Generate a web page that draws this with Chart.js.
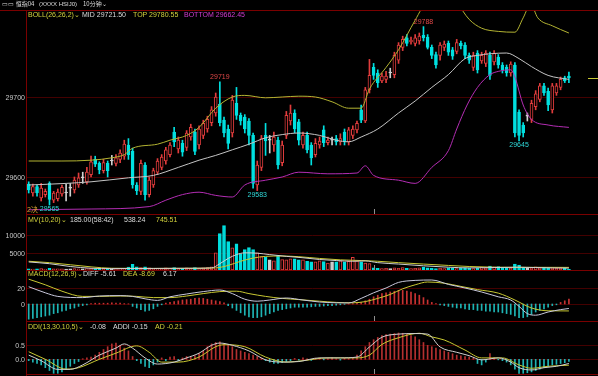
<!DOCTYPE html>
<html><head><meta charset="utf-8">
<script src="https://cdn.jsdelivr.net/npm/chart.js@4.4.1/dist/chart.umd.min.js"></script>
<style>
html,body{margin:0;padding:0;background:#000;width:598px;height:376px;overflow:hidden;}
#wrap{position:relative;width:598px;height:376px;font-family:"Liberation Sans",Arial,"Noto Sans CJK SC",sans-serif;}
canvas{position:absolute;left:0;}
.t{position:absolute;font-size:7px;line-height:8px;white-space:nowrap;}
.y{color:#d2d23c}.w{color:#dcdcdc}.m{color:#d23cd2}.c{color:#30d8d8}.o{color:#d8a030}
.ln{position:absolute;background:#7a0000;}
</style></head><body><div id="wrap">
<canvas id="cMain" width="598" height="204" style="top:10px"></canvas>
<canvas id="cVol" width="598" height="56" style="top:214px"></canvas>
<canvas id="cMacd" width="598" height="50" style="top:271px"></canvas>
<canvas id="cDdi" width="598" height="53" style="top:321px"></canvas>

<div class="ln" style="left:0;top:10px;width:598px;height:1px"></div>
<div class="ln" style="left:26px;top:10px;width:1px;height:366px"></div>
<div class="ln" style="left:26px;top:214px;width:572px;height:1px"></div>
<div class="ln" style="left:26px;top:270px;width:572px;height:1px"></div>
<div class="ln" style="left:26px;top:321px;width:572px;height:1px"></div>
<div class="ln" style="left:26px;top:374px;width:572px;height:1px"></div>

<div class="t w" style="left:2px;top:0px;font-size:6px;">▭▭ <span style="font-family:'Noto Sans CJK SC'">恒指04</span></div>
<div class="t w" style="left:39px;top:0px;font-size:6px;">(XXXX HSIJ0)</div>
<div class="t w" style="left:83px;top:0px;font-size:6px;font-family:'Noto Sans CJK SC'">10分钟⌄</div>

<div class="t y" style="left:28px;top:11px;">BOLL(26,26,2)⌄</div>
<div class="t w" style="left:82px;top:11px;">MID 29721.50</div>
<div class="t y" style="left:133px;top:11px;">TOP 29780.55</div>
<div class="t m" style="left:184px;top:11px;">BOTTOM 29662.45</div>
<div class="t o" style="left:27px;top:206px;">2决</div>

<div class="t y" style="left:28px;top:216px;">MV(10,20)⌄</div>
<div class="t w" style="left:70px;top:216px;">185.00(58:42)</div>
<div class="t w" style="left:124px;top:216px;">538.24</div>
<div class="t y" style="left:156px;top:216px;">745.51</div>

<div class="t y" style="left:28px;top:270px;">MACD(12,26,9)⌄</div>
<div class="t w" style="left:83px;top:270px;">DIFF -5.61</div>
<div class="t y" style="left:123px;top:270px;">DEA -8.69</div>
<div class="t w" style="left:163px;top:270px;">6.17</div>

<div class="t y" style="left:28px;top:323px;">DDI(13,30,10,5)⌄</div>
<div class="t w" style="left:90px;top:323px;">-0.08</div>
<div class="t w" style="left:113px;top:323px;">ADDI -0.15</div>
<div class="t y" style="left:155px;top:323px;">AD -0.21</div>
</div>
<script>
// ===== DATA =====
const candleOpen = [29591,29580,29588,29574,29578,29592,29571,29573,29579,29580,29586,29584,29590,29599,29594,29603,29622,29617,29608,29617,
29620,29617,29622,29626,29640,29632,29590,29582,29615,29578,29590,29606,29612,29620,29628,29656,29635,29642,29637,29650,
29656,29640,29652,29660,29668,29680,29691,29671,29660,29655,29692,29677,29675,29670,29652,29590,29612,29652,29646,29640,
29646,29618,29652,29670,29680,29669,29640,29652,29640,29628,29640,29659,29643,29646,29648,29644,29656,29644,29652,29659,
29684,29670,29709,29737,29730,29720,29722,29730,29728,29746,29762,29774,29769,29767,29770,29777,29775,29762,29753,29752,
29762,29767,29759,29757,29767,29765,29752,29737,29755,29745,29742,29752,29744,29750,29740,29737,29730,29740,29681,29665,
29676,29672,29688,29697,29714,29707,29684,29705,29712,29724,29726];
const candleHigh = [29594,29591,29590,29592,29585,29594,29582,29585,29590,29591,29592,29600,29605,29606,29612,29626,29626,29619,29622,29620,
29627,29628,29634,29646,29648,29636,29593,29621,29618,29600,29611,29623,29628,29637,29643,29662,29650,29646,29658,29666,
29660,29664,29671,29676,29688,29705,29719,29675,29665,29702,29712,29680,29678,29673,29655,29620,29652,29667,29652,29656,
29650,29645,29682,29690,29684,29672,29656,29656,29643,29648,29650,29664,29650,29650,29652,29654,29660,29662,29664,29670,
29690,29712,29747,29742,29734,29730,29732,29736,29756,29768,29776,29778,29775,29778,29780,29788,29778,29765,29756,29768,
29770,29770,29762,29772,29770,29768,29755,29756,29758,29756,29758,29756,29758,29753,29743,29740,29744,29743,29684,29668,
29680,29696,29708,29717,29717,29711,29717,29717,29725,29726,29731];
const candleLow = [29580,29576,29576,29570,29575,29565,29568,29570,29576,29570,29576,29580,29587,29592,29591,29600,29613,29604,29605,29600,
29615,29614,29618,29622,29622,29586,29578,29578,29571,29575,29587,29603,29609,29616,29625,29638,29630,29626,29633,29646,
29628,29635,29648,29656,29664,29676,29664,29650,29635,29650,29672,29665,29655,29640,29586,29583,29608,29627,29630,29632,
29610,29614,29648,29665,29655,29640,29636,29630,29615,29625,29636,29638,29640,29640,29640,29640,29640,29640,29648,29655,
29668,29668,29705,29722,29712,29718,29718,29724,29724,29742,29758,29764,29766,29764,29766,29770,29760,29748,29736,29746,
29758,29752,29747,29754,29760,29748,29742,29733,29730,29742,29738,29722,29740,29736,29730,29726,29726,29650,29645,29650,
29670,29668,29684,29694,29702,29683,29680,29702,29709,29718,29718];
const candleClose = [29584,29588,29580,29586,29582,29572,29580,29581,29587,29580,29586,29596,29599,29599,29606,29619,29616,29609,29618,29608,
29620,29624,29630,29641,29628,29590,29583,29617,29578,29596,29608,29620,29625,29634,29640,29644,29646,29631,29655,29662,
29632,29660,29667,29672,29684,29700,29668,29655,29642,29696,29677,29670,29660,29652,29592,29615,29648,29645,29646,29650,
29615,29640,29677,29680,29660,29646,29652,29634,29624,29642,29645,29643,29646,29646,29644,29648,29644,29659,29660,29667,
29671,29709,29727,29727,29718,29726,29726,29730,29752,29765,29772,29767,29771,29774,29776,29774,29762,29752,29740,29765,
29766,29756,29751,29768,29764,29752,29746,29752,29734,29752,29755,29727,29755,29740,29734,29730,29741,29655,29652,29655,
29676,29692,29704,29714,29705,29690,29714,29714,29722,29720,29724];

const volume = [300,250,300,400,250,500,300,350,300,250,300,400,350,300,400,500,350,300,300,400,250,300,350,400,
800,1600,900,
700,900,600,500,400,500,600,400,700,500,400,600,500,700,500,600,700,900,
4900,10400,12700,8100,6300,7500,4600,5800,6400,5800,4900,3800,3700,2900,2600,4100,3000,2900,3200,3200,2900,2900,2500,2300,2300,2600,2400,2000,2300,2300,2600,2300,2500,3600,2600,2300,2000,1800,
600,500,400,500,400,600,500,700,500,400,500,600,800,600,500,400,500,400,600,500,400,500,600,500,400,500,800,600,1100,900,1000,500,600,500,1700,1400,700,500,600,900,600,700,500,600,500,600,500,185];

const bollTop = [[0,29620],[8,29620],[15,29621],[20,29624],[23,29628],[25,29636],[31,29641],[34,29646],[38,29652],[41,29662],[45,29686],[49,29700],[52,29702],[57,29699],[61,29700],[65,29701],[69,29700],[73,29694],[77,29686],[80,29686],[82,29710],[86,29737],[89,29759],[93,29796],[96,29822],[100,29832],[103,29818],[106,29797],[109,29786],[113,29782],[117,29781],[119,29799],[120.8,29816],[122.5,29799],[126,29789],[130,29780]];
const bollMid = [[0,29590],[9,29592],[15,29594],[24,29599],[30,29602],[36,29612],[41,29621],[45,29627],[49,29634],[53,29641],[57,29649],[61,29653],[65,29655],[70,29652],[74,29646],[77,29644],[80,29650],[84,29660],[89,29680],[93,29695],[97,29712],[101,29728],[105,29748],[108,29752],[111,29754],[115,29755],[118,29748],[121,29738],[125,29727],[130,29722]];
const bollBottom = [[0,29559],[15,29560],[29,29563],[33,29571],[37,29578],[41,29581],[45,29577],[49,29575],[52,29590],[57,29596],[61,29600],[65,29606],[72,29604],[79,29605],[81,29614],[83,29602],[89,29596],[93,29592],[97,29612],[101,29633],[103,29660],[105.5,29690],[108,29712],[111,29728],[113,29732],[116,29734],[117,29725],[119,29690],[121,29672],[125,29665],[130,29662]];

const mv10 = [[0,2300],[5,1800],[10,1000],[15,500],[20,400],[30,450],[40,500],[44,600],[46,1800],[48,3300],[50,4400],[52,4900],[55,4800],[58,4400],[62,3900],[66,3500],[70,3000],[74,2700],[78,2500],[81,2600],[84,2100],[89,1700],[95,1200],[101,800],[106,600],[112,700],[118,800],[122,700],[126,600],[130,538]];
const mv20 = [[0,2500],[5,2100],[10,1500],[15,900],[20,500],[30,450],[40,500],[45,600],[48,1300],[51,2500],[54,3400],[57,3900],[61,4000],[65,3800],[70,3300],[75,2900],[80,2700],[84,2500],[89,2100],[95,1700],[101,1300],[106,1000],[112,800],[118,750],[124,760],[130,745]];

const macdDiff = [[0,21.6],[4,14],[7,9.5],[13,8],[17,10],[22,10.5],[25,9.5],[28,6.5],[31,4.5],[34,9],[38,12.5],[42,15.5],[46,17.5],[49,13],[52,6],[55,3.5],[58,5],[62,7.5],[66,5],[70,2.5],[74,1.5],[77,1.3],[80,7],[83,14],[86,20],[89,27],[93,29.5],[97,30],[101,24.5],[105,20],[109,15],[113,9],[116,5],[118,-3],[120,-12],[122,-14],[125,-10],[128,-7],[130,-5.61]];
const macdDea = [[0,31],[4,24],[8,16],[13,9.5],[17,9.5],[22,10],[26,9.5],[30,8],[34,8],[38,10],[42,13],[46,15.5],[50,16],[53,13],[57,9.5],[61,7],[65,5.5],[70,3.5],[74,2],[78,1.5],[81,3],[84,7],[87,12],[90,19],[93,24],[96,27.5],[100,26],[104,22],[108,18],[113,13.6],[117,5],[121,-5],[125,-8.5],[130,-8.69]];
const macdHist = [-19,-18,-17,-16,-15,-14,-12,-11,-9,-8,-6,-5,-3,-2,-1,
0.5,1,1,1,1,1.5,1,1,0.5,0.3,
-3,-5,-7,-9,-8,-6,-3,-1,
1,2,3,4,5,5.5,6,7,7.5,7,6,5,4,3,1.5,
-2,-5,-8,-11,-14,-16,-17,-17,-16,-14,-12,-10,-8,-7,-6,-5,-4,
-4,-4,-4,-3.5,-3,-3,-2.5,-2,-2,-1.5,-1,-0.5,
0.3,0.5,1,
2,4,6,9,11,13,14,15,16,17,17,16,15,13,11,8,5,
2,0.5,-1,
-2,-3,-4,-5,-5,-6,-7,-7,-8,-8,-9,-9,-10,-10,-11,-12,-13,-15,-17,-17,
-16,-13,-10,-8,-6,-4,-2,-1,
2,4,6.17];

const ddiAddi = [[0,0.15],[3,-0.05],[7,-0.36],[10,-0.36],[13,-0.2],[17,0.15],[21,0.4],[23,0.55],[25,0.4],[28,0.05],[31,-0.17],[35,-0.1],[38,0.05],[41,0.22],[44,0.5],[46,0.58],[49,0.5],[53,0.3],[57,-0.02],[61,-0.1],[65,-0.08],[70,0.05],[75,0.05],[79,0.08],[82,0.44],[85,0.79],[89,0.9],[93,0.92],[96,0.9],[99,0.44],[103,0.25],[106,0.13],[109,-0.02],[113,0.05],[116,-0.1],[118,-0.3],[121,-0.38],[124,-0.3],[127,-0.25],[130,-0.15]];
const ddiAd = [[0,0.27],[4,0.0],[9,-0.35],[12,-0.3],[17,0.0],[21,0.22],[26,0.48],[29,0.25],[32,-0.1],[36,-0.1],[41,0.08],[45,0.45],[47,0.52],[52,0.45],[57,0.08],[62,-0.1],[66,-0.05],[72,0.05],[79,0.05],[82,0.15],[85,0.53],[89,0.77],[94,0.93],[97,0.8],[100,0.69],[105,0.33],[109,0.05],[114,0.05],[118,-0.2],[121,-0.32],[125,-0.25],[130,-0.21]];
const ddiBar = [-0.05,-0.1,-0.15,
-0.2,-0.3,-0.4,-0.5,-0.5,-0.45,-0.35,-0.25,-0.15,-0.08,
0.02,0.05,0.08,
0.15,0.25,0.35,0.45,0.55,0.58,0.5,0.4,0.3,
0.1,-0.05,-0.15,-0.25,-0.3,-0.2,-0.1,
0.05,-0.05,0.08,0.1,-0.05,0.05,0.1,0.08,0.12,
0.2,0.3,0.45,0.55,0.6,0.62,0.55,0.5,0.45,0.35,0.3,0.25,
0.2,0.15,0.1,0.05,
-0.05,-0.1,-0.15,-0.15,-0.12,-0.08,-0.05,
0.03,-0.03,0.05,0.02,-0.04,0.04,0.05,-0.02,0.03,0.05,0.02,-0.03,0.04,0.03,0.05,
0.15,0.3,0.45,0.6,0.7,0.78,0.85,0.88,0.9,0.92,0.94,0.93,0.9,0.85,0.8,0.7,0.6,0.5,0.45,0.4,0.35,0.3,
0.25,0.2,0.15,0.12,0.1,0.08,0.05,
-0.15,-0.2,-0.1,
0.2,0.05,
-0.02,-0.05,-0.1,-0.2,-0.35,-0.5,
-0.5,-0.48,-0.45,-0.4,-0.35,-0.3,-0.25,-0.2,-0.18,-0.15,-0.12,-0.08];

const mainTicks = [29700, 29600], mainTickLabels = ['29700','29600'];
const volTicks = [10000, 5000], volTickLabels = ['10000','5000'];
const macdTicks = [20, 0], macdTickLabels = ['20','0'];
const ddiTicks = [0.5, 0], ddiTickLabels = ['0.5','0.0'];
const markIdx = [5, 46, 55, 95, 118];
const markType = ['low','high','low','high','low'];
const sessionBreakIdx = 83;

// ===== RENDER =====
const N = candleOpen.length;
const X_MIN = -0.41, X_MAX = 137.0;
const UP = '#e03c3c', DN = '#00e0e0', FLAT = '#d0d0d0', GRID = '#440000';
const colors = candleOpen.map((o,i)=> candleClose[i] > o ? UP : (candleClose[i] < o ? DN : FLAT));
const fills = candleOpen.map((o,i)=> candleClose[i] > o ? '#000000' : colors[i]);
const pts = a => a.map(p => ({x:p[0], y:p[1]}));
const FONT = '7px "Liberation Sans", Arial, sans-serif';

function lineDs(data, color){
  return {type:'line', data: pts(data), borderColor: color, borderWidth: 1, pointRadius: 0,
          cubicInterpolationMode: 'monotone', order: 0};
}
function panelPlugin(cfg){
  return {
    id: 'panel_' + cfg.name,
    beforeDatasetsDraw(chart){
      const {ctx, chartArea: a} = chart; const y = chart.scales.y;
      ctx.save(); ctx.strokeStyle = GRID; ctx.lineWidth = 1;
      cfg.ticks.forEach(v => { const py = Math.round(y.getPixelForValue(v)) + 0.5;
        ctx.beginPath(); ctx.moveTo(a.left, py); ctx.lineTo(a.right, py); ctx.stroke(); });
      ctx.restore();
    },
    afterDraw(chart){
      const {ctx, chartArea: a} = chart; const x = chart.scales.x, y = chart.scales.y;
      ctx.save();
      ctx.font = FONT; ctx.fillStyle = '#c8c8c8'; ctx.textAlign = 'right'; ctx.textBaseline = 'middle';
      cfg.ticks.forEach((v,k) => ctx.fillText(cfg.labels[k], 25, Math.round(y.getPixelForValue(v)) + 1));
      const sx = Math.round(x.getPixelForValue(sessionBreakIdx)) + 0.5;
      ctx.strokeStyle = '#909090'; ctx.lineWidth = 1;
      ctx.beginPath(); ctx.moveTo(sx, a.bottom - 5); ctx.lineTo(sx, a.bottom); ctx.stroke();
      if (cfg.extra) cfg.extra(chart);
      ctx.restore();
    }
  };
}
function makeChart(id, yMin, yMax, datasets, cfg){
  return new Chart(document.getElementById(id), {
    type: 'bar',
    data: {datasets},
    options: {
      responsive: false, animation: false, events: [],
      layout: {padding: {left: 27, right: 0, top: 0, bottom: 0}},
      plugins: {legend: {display: false}, tooltip: {enabled: false}},
      scales: {
        x: {type: 'linear', display: false, min: X_MIN, max: X_MAX, offset: false},
        y: {type: 'linear', display: false, min: yMin, max: yMax}
      }
    },
    plugins: [panelPlugin(cfg)]
  });
}

// main
makeChart('cMain', 29553.75, 29808.75, [
  lineDs(bollTop, '#b4b432'),
  lineDs(bollMid, '#c4c4c4'),
  lineDs(bollBottom, '#b42db4'),
  {type:'bar', data: candleOpen.map((o,i)=>({x:i, y:[Math.min(o,candleClose[i]), Math.max(o,candleClose[i])]})),
   backgroundColor: fills, borderColor: colors, borderWidth: 1, borderSkipped: false,
   barThickness: 3, grouped: false, minBarLength: 1, order: 1},
  {type:'bar', data: candleLow.map((l,i)=>({x:i, y:[l, candleHigh[i]]})),
   backgroundColor: colors, borderWidth: 0, barThickness: 1, grouped: false, order: 2}
], {name:'main', ticks: mainTicks, labels: mainTickLabels, extra(chart){
  const {ctx, chartArea: a} = chart; const x = chart.scales.x, y = chart.scales.y;
  ctx.font = FONT; ctx.textAlign = 'center';
  markIdx.forEach((i,k) => {
    const hi = markType[k] === 'high';
    const v = hi ? candleHigh[i] : candleLow[i];
    const px = x.getPixelForValue(i), py = y.getPixelForValue(v);
    ctx.fillStyle = hi ? '#e04848' : '#30d8d8';
    ctx.textBaseline = hi ? 'bottom' : 'top';
    ctx.fillText(String(v), px, hi ? py - 1 : py + 1);
  });
  const ly = Math.round(y.getPixelForValue(candleClose[N-1])) + 0.5;
  ctx.strokeStyle = '#c8c832'; ctx.beginPath(); ctx.moveTo(a.right - 10, ly); ctx.lineTo(a.right, ly); ctx.stroke();
}});

// volume
makeChart('cVol', 0, 16000, [
  lineDs(mv10, '#d0d0d0'),
  lineDs(mv20, '#c8c832'),
  {type:'bar', data: volume.map((v,i)=>({x:i, y:v})), backgroundColor: fills, borderColor: colors,
   borderWidth: 1, borderSkipped: false, barThickness: 3, grouped: false, order: 1}
], {name:'vol', ticks: volTicks, labels: volTickLabels});

// MACD
makeChart('cMacd', -21.25, 41.25, [
  lineDs(macdDiff, '#c8c8dc'),
  lineDs(macdDea, '#c8c832'),
  {type:'bar', data: macdHist.map((v,i)=>({x:i, y:v})), backgroundColor: macdHist.map(v => v >= 0 ? '#c83232' : '#1eb4b4'),
   borderWidth: 0, barThickness: 1, grouped: false, order: 1}
], {name:'macd', ticks: macdTicks, labels: macdTickLabels});

// DDI
makeChart('cDdi', -0.525, 1.368, [
  lineDs(ddiAddi, '#d0d0d0'),
  lineDs(ddiAd, '#c8c832'),
  {type:'bar', data: ddiBar.map((v,i)=>({x:i, y:v})), backgroundColor: ddiBar.map(v => v >= 0 ? '#b43030' : '#1eb4b4'),
   borderWidth: 0, barThickness: 1, grouped: false, order: 1}
], {name:'ddi', ticks: ddiTicks, labels: ddiTickLabels});
</script>
</body></html>
